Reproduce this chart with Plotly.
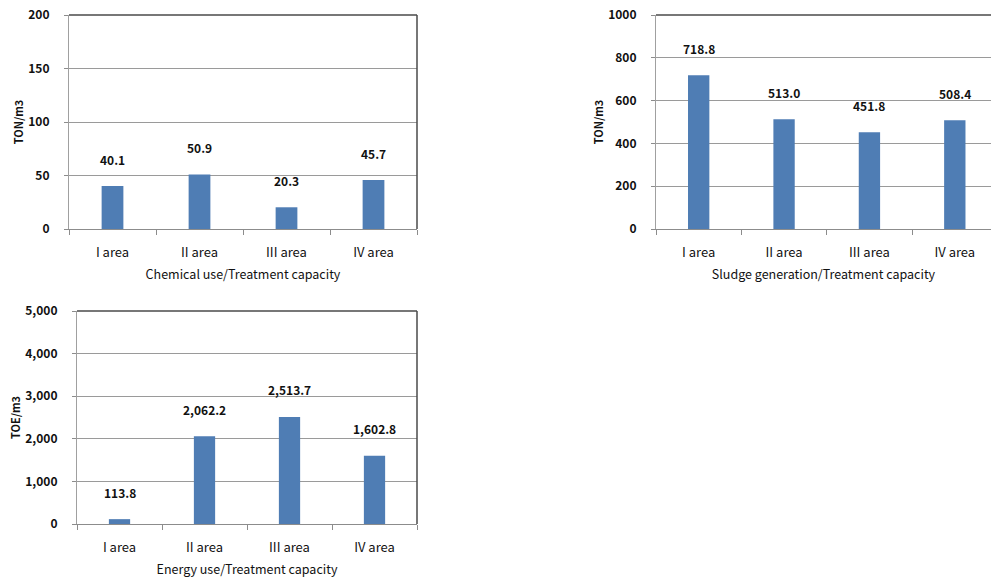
import plotly.graph_objects as go

categories = ["I area", "II area", "III area", "IV area"]
chem_values = [40.1, 50.9, 20.3, 45.7]
sludge_values = [718.8, 513.0, 451.8, 508.4]
energy_values = [113.8, 2062.2, 2513.7, 1602.8]

chem_ticks = [0, 50, 100, 150, 200]
sludge_ticks = [0, 200, 400, 600, 800, 1000]
energy_ticks = [0, 1000, 2000, 3000, 4000, 5000]

W, H = 991, 581
BAR = "#4F7DB4"
TXT = "#111111"
GRID = "#9a9a9a"
FONT = "Noto Sans CJK KR"

fig = go.Figure()

panels = [
    dict(vals=chem_values, ticks=chem_ticks, ytitle="TON/m3", xtitle="Chemical use/Treatment capacity",
         dom_x=[69 / W, 417 / W], dom_y=[1 - 229 / H, 1 - 15 / H], xr=[-0.5, 3.5], right=True, tf=""),
    dict(vals=sludge_values, ticks=sludge_ticks, ytitle="TON/m3", xtitle="Sludge generation/Treatment capacity",
         dom_x=[656 / W, 1.0], dom_y=[1 - 229 / H, 1 - 15 / H], xr=[-0.5, 3.5 - 6.5 / 85.5], right=False, tf=""),
    dict(vals=energy_values, ticks=energy_ticks, ytitle="TOE/m3", xtitle="Energy use/Treatment capacity",
         dom_x=[77 / W, 417 / W], dom_y=[1 - 524 / H, 1 - 311 / H], xr=[-0.5, 3.5], right=True, tf=","),
]

layout = dict(
    width=W, height=H, margin=dict(l=0, r=0, t=0, b=0),
    paper_bgcolor="white", plot_bgcolor="white", showlegend=False,
    font=dict(family=FONT, color=TXT, size=12),
)
shapes = []
annotations = []

for i, p in enumerate(panels):
    n = "" if i == 0 else str(i + 1)
    xa, ya = "x" + n, "y" + n
    fig.add_trace(go.Bar(x=categories, y=p["vals"], marker=dict(color=BAR, line=dict(width=0)),
                         width=0.25, xaxis=xa, yaxis=ya, hoverinfo="skip"))
    for c, v in zip(categories, p["vals"]):
        annotations.append(dict(x=c, y=v, xref=xa, yref=ya, text=f"{v:,.1f}", showarrow=False,
                                yshift=27, font=dict(size=12, family=FONT, color=TXT, weight="bold")))
    layout["xaxis" + n] = dict(
        domain=p["dom_x"], anchor=ya, range=p["xr"], type="category",
        showline=True, linecolor="#8c8c8c", linewidth=1.2,
        ticks="outside", tickson="boundaries", ticklen=5, tickcolor="#8c8c8c",
        showgrid=False, ticklabelstandoff=11,
        tickfont=dict(size=13, family=FONT, color=TXT),
        title=dict(text=p["xtitle"], standoff=10, font=dict(size=12.5, family=FONT, color=TXT)),
        automargin=False, fixedrange=True,
    )
    layout["yaxis" + n] = dict(
        domain=p["dom_y"], anchor=xa, range=[0, p["ticks"][-1]], tickvals=p["ticks"],
        tickformat=p["tf"],
        showline=True, linecolor="#a0a0a0", linewidth=1.2,
        ticks="outside", ticklen=4, tickcolor="#8c8c8c",
        showgrid=True, gridcolor=GRID, gridwidth=1, zeroline=False,
        ticklabelstandoff=12,
        tickfont=dict(size=12, family=FONT, color=TXT, weight="bold"),
        title=dict(text=p["ytitle"], standoff=2, font=dict(size=11, family=FONT, color=TXT, weight="bold")),
        automargin=False, fixedrange=True,
    )
    shapes.append(dict(type="line", xref=xa + " domain", yref=ya + " domain", x0=0, x1=1, y0=1, y1=1,
                       line=dict(color="#4a4a4a", width=1.5)))
    if p["right"]:
        shapes.append(dict(type="line", xref=xa + " domain", yref=ya + " domain", x0=1, x1=1, y0=0, y1=1,
                           line=dict(color="#4a4a4a", width=1.5)))

layout["shapes"] = shapes
layout["annotations"] = annotations
fig.update_layout(**layout)
fig.write_html("out.html")
